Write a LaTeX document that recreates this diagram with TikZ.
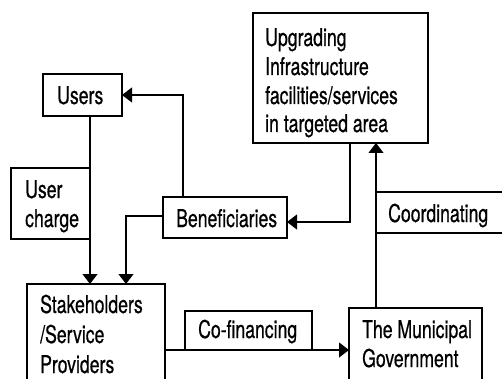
\documentclass[tikz,border=0pt]{standalone}
\usepackage{fontspec}
\setmainfont[FakeStretch=0.72,FakeBold=0.6]{TeX Gyre Heros}
\usetikzlibrary{arrows.meta}
\begin{document}
\begin{tikzpicture}[x=1pt,y=-1pt,
  box/.style={draw,line width=2pt,inner sep=0pt,outer sep=0pt},
  lbl/.style={anchor=base west,inner sep=0pt,font=\fontsize{24.5}{29}\selectfont},
  conn/.style={line width=1.1pt},
  arr/.style={conn,-{Triangle[length=10pt,width=15pt]}}]
\useasboundingbox (0,0) rectangle (502,379);
\clip (0,0) rectangle (502,379);
% boxes
\node[box,minimum width=79pt,minimum height=42pt] (users) at (82.5,95) {};
\node[box,minimum width=79pt,minimum height=71pt] (charge) at (50.5,203.5) {};
\node[box,minimum width=124pt,minimum height=41pt] (benef) at (225,217.5) {};
\node[box,minimum width=175pt,minimum height=130pt] (upg) at (340.5,78) {};
\node[box,minimum width=140pt,minimum height=41pt] (coord) at (446,212.5) {};
\node[box,minimum width=138pt,minimum height=116pt] (stake) at (96,342) {};
\node[box,minimum width=127pt,minimum height=39pt] (cofin) at (248.5,330.5) {};
\node[box,minimum width=133pt,minimum height=92pt] (muni) at (415.5,354) {};
% labels
\node[lbl] (t1) at (57,104) {Users};
\node[lbl] (t2) at (25,198) {User};
\node[lbl] (t3) at (25,227) {charge};
\node[lbl] (t4) at (176,227) {Beneficiaries};
\node[lbl] (t5) at (265,46) {Upgrading};
\node[lbl] (t6) at (265,75) {Infrastructure};
\node[lbl] (t7) at (265,104) {facilities/services};
\node[lbl] (t8) at (265,132) {in targeted area};
\node[lbl] (t9) at (388,222) {Coordinating};
\node[lbl] (t10) at (40,313) {Stakeholders};
\node[lbl] (t11) at (40,343) {/Service};
\node[lbl] (t12) at (40,373) {Providers};
\node[lbl] (t13) at (198,338) {Co-financing};
\node[lbl] (t14) at (362,338) {The Municipal};
\node[lbl] (t15) at (362,367) {Government};
% helper coordinates
\coordinate (b1) at (183,95);
\coordinate (b2) at (126,216);
\coordinate (u1) at (350,222);
% connectors
\draw[arr] (users.south -| charge.east) -- (stake.north -| charge.east);
\draw[arr] (benef.north -| b1) |- (users.east);
\draw[arr] (benef.west |- b2) -| (stake.north -| b2);
\draw[arr] (upg.south -| u1) |- (benef.east |- u1);
\draw[arr] (muni.north -| coord.west) -- (upg.south -| coord.west);
\draw[arr] (stake.east |- cofin.south) -- (muni.west |- cofin.south);
\end{tikzpicture}
\end{document}
